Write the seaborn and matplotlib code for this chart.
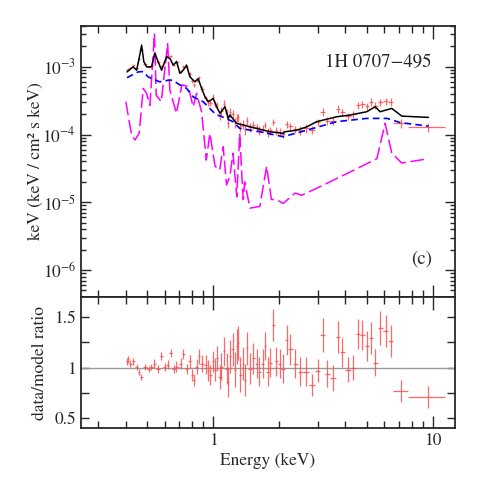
import numpy as np
import pandas as pd
import seaborn as sns
import matplotlib
matplotlib.use("Agg")
import matplotlib.pyplot as plt
from matplotlib.ticker import LogLocator, FixedLocator, NullFormatter, FuncFormatter

# ---------------- data ----------------
# total model (black)
model_E = [0.405, 0.432, 0.448, 0.465, 0.472, 0.483, 0.497, 0.524, 0.542, 0.561, 0.582,
           0.613, 0.635, 0.657, 0.681, 0.705, 0.730, 0.756, 0.783, 0.825, 0.854, 0.885,
           0.917, 0.949, 1.0, 1.036, 1.073, 1.131, 1.17, 1.191, 1.278, 1.37, 1.577,
           1.813, 2.085, 2.12, 2.40, 2.67, 2.96, 3.65, 4.2, 5.0, 5.46, 5.75, 6.5, 7.22, 9.55]
model_F = [8.4e-4, 1.0e-3, 8.9e-4, 1.6e-3, 2.09e-3, 1.19e-3, 1.0e-3, 1.0e-3, 1.58e-3, 1.19e-3, 8.9e-4,
           1.40e-3, 1.33e-3, 1.06e-3, 1.19e-3, 8.0e-4, 8.9e-4, 1.06e-3, 7.1e-4, 6.0e-4, 6.7e-4, 4.8e-4,
           3.6e-4, 3.05e-4, 3.4e-4, 2.57e-4, 2.06e-4, 2.57e-4, 1.73e-4, 1.94e-4, 1.46e-4, 1.38e-4, 1.23e-4,
           1.10e-4, 1.04e-4, 1.10e-4, 1.16e-4, 1.30e-4, 1.55e-4, 1.83e-4, 1.94e-4, 2.17e-4, 2.57e-4, 2.17e-4,
           2.43e-4, 1.87e-4, 1.79e-4]

# continuum component (blue dashed)
cont_E = [0.405, 0.455, 0.48, 0.505, 0.57, 0.635, 0.66, 0.705, 0.756, 0.81, 0.90, 0.98,
          1.036, 1.07, 1.23, 1.32, 1.63, 2.08, 2.67, 3.65, 5.0, 6.2, 7.1, 9.55]
cont_F = [6.9e-4, 8.4e-4, 8.5e-4, 7.1e-4, 6.0e-4, 6.4e-4, 6.2e-4, 5.4e-4, 4.8e-4, 3.6e-4, 3.05e-4, 2.3e-4,
          1.94e-4, 1.9e-4, 1.55e-4, 1.23e-4, 1.10e-4, 9.3e-5, 1.16e-4, 1.55e-4, 1.73e-4, 1.73e-4, 1.5e-4, 1.33e-4]

# line/reflection component (magenta long dashed)
refl_E = [0.40, 0.425, 0.44, 0.46, 0.48, 0.497, 0.515, 0.54, 0.55, 0.58, 0.62, 0.635, 0.68,
          0.72, 0.77, 0.81, 0.84, 0.885, 0.93, 0.965, 1.02, 1.07, 1.11, 1.15, 1.19, 1.23,
          1.28, 1.32, 1.35, 1.37, 1.39, 1.47, 1.63, 1.75, 1.84, 1.94, 2.08, 2.36, 2.53,
          3.29, 4.2, 5.56, 6.06, 6.5, 7.22, 9.55]
refl_F = [3.05e-4, 9.8e-5, 8.3e-5, 1.04e-4, 4.8e-4, 4.05e-4, 2.7e-4, 3.1e-3, 3.8e-4, 3.05e-4, 2.2e-3, 4.5e-4, 2.06e-4,
          5.4e-4, 5.1e-4, 2.57e-4, 4.05e-4, 2.17e-4, 4.2e-5, 1.04e-4, 3.4e-5, 3.0e-5, 6.6e-5, 1.8e-5, 2.4e-5, 5.3e-5,
          1.2e-5, 1.04e-4, 2.4e-5, 1.1e-5, 2.0e-5, 8.2e-6, 8.7e-6, 3.4e-5, 1.1e-5, 1.1e-5, 9.6e-6, 1.37e-5, 1.27e-5,
          1.9e-5, 2.8e-5, 4.4e-5, 1.46e-4, 5.3e-5, 3.8e-5, 4.4e-5]

# data / model ratio
data_E = [0.405, 0.41, 0.42, 0.43, 0.45, 0.46, 0.47, 0.49, 0.51, 0.52, 0.54, 0.56, 0.58, 0.60,
          0.62, 0.64, 0.66, 0.68, 0.71, 0.73, 0.76, 0.78, 0.80, 0.82, 0.84, 0.86, 0.89, 0.93,
          0.95, 0.97, 1.0, 1.02, 1.04, 1.07, 1.09, 1.12, 1.15, 1.17, 1.19, 1.23, 1.26, 1.28,
          1.30, 1.33, 1.36, 1.39, 1.42, 1.47, 1.52, 1.58, 1.62, 1.68, 1.72, 1.77, 1.82, 1.88,
          1.94, 2.01, 2.08, 2.16, 2.24, 2.36, 2.48, 2.65, 2.81, 3.0, 3.15, 3.31, 3.52, 3.69,
          3.87, 4.09, 4.35, 4.55, 4.77, 5.0, 5.22, 5.47, 5.77, 6.11, 6.43, 7.14, 9.55]
ratio = [1.06, 1.08, 1.04, 1.06, 1.01, 0.96, 0.91, 1.01, 0.99, 1.01, 1.04, 0.99, 1.11, 1.01,
         1.03, 1.14, 0.99, 1.01, 1.04, 1.13, 0.99, 1.06, 0.93, 0.88, 1.01, 1.11, 1.04, 1.03,
         0.97, 0.93, 1.06, 0.98, 1.09, 0.91, 1.01, 1.16, 0.99, 0.86, 1.11, 1.18, 0.98, 1.21,
         1.24, 0.93, 1.04, 0.88, 1.19, 0.99, 1.09, 1.04, 0.96, 1.04, 1.21, 0.96, 1.05, 1.42,
         1.06, 1.04, 0.99, 1.27, 1.18, 1.04, 0.96, 0.96, 0.83, 0.97, 1.32, 0.94, 0.90, 1.30,
         1.15, 0.98, 1.00, 1.33, 1.32, 1.21, 1.29, 1.05, 1.39, 1.36, 1.26, 0.77, 0.71]
ratio_err = [0.03, 0.03, 0.03, 0.03, 0.03, 0.03, 0.03, 0.03, 0.03, 0.03, 0.04, 0.04, 0.04, 0.04,
             0.04, 0.04, 0.04, 0.05, 0.05, 0.05, 0.05, 0.06, 0.06, 0.06, 0.07, 0.07, 0.08, 0.09,
             0.10, 0.10, 0.10, 0.11, 0.12, 0.12, 0.13, 0.14, 0.15, 0.15, 0.16, 0.16, 0.17, 0.17,
             0.17, 0.17, 0.16, 0.16, 0.16, 0.15, 0.15, 0.14, 0.14, 0.14, 0.14, 0.14, 0.14, 0.16,
             0.14, 0.14, 0.14, 0.15, 0.15, 0.14, 0.14, 0.14, 0.11, 0.11, 0.17, 0.13, 0.13, 0.16,
             0.14, 0.12, 0.12, 0.15, 0.15, 0.15, 0.16, 0.13, 0.17, 0.16, 0.16, 0.11, 0.11]
last_bins_lo = [6.58, 7.67]   # channel edges of the two widest bins
last_bins_hi = [7.70, 11.4]

tick_labels_x = {1: "1", 10: "10"}
source_name = "1H 0707\u2212495"
panel_tag = "(c)"

# ---------------- style ----------------
sns.set_style("ticks")
plt.rcParams['font.family'] = ['STIXGeneral', 'DejaVu Serif']
plt.rcParams['mathtext.fontset'] = 'stix'

fig = plt.figure(figsize=(4.8, 4.8), dpi=100)
ax1 = fig.add_axes([0.16875, 0.38125, 0.779, 0.5646])
ax2 = fig.add_axes([0.16875, 0.10833, 0.779, 0.2729], sharex=ax1)

for ax in (ax1, ax2):
    ax.set_xscale('log')
ax1.set_yscale('log')

# derived bin widths
E = np.array(data_E)
edges = np.sqrt(E[:-1] * E[1:])
lo_edge = np.concatenate([[E[0] - (edges[0] - E[0])], edges])
hi_edge = np.concatenate([edges, [E[-1] + 1.0]])
lo_edge[-2:] = last_bins_lo
hi_edge[-2:] = last_bins_hi
hi_edge[-3] = min(hi_edge[-3], 6.58)
xerr = np.vstack([E - lo_edge, hi_edge - E])

r = np.array(ratio)
rerr = np.array(ratio_err)
mod_at_data = 10 ** np.interp(np.log10(E), np.log10(model_E), np.log10(model_F))
flux = r * mod_at_data
ferr = rerr * mod_at_data

red = '#ff4d4d'
ax1.errorbar(E, flux, xerr=xerr, yerr=ferr, fmt='none', ecolor=red, elinewidth=0.9, alpha=0.85, zorder=2)

df_m = pd.DataFrame({'E': model_E, 'F': model_F})
df_c = pd.DataFrame({'E': cont_E, 'F': cont_F})
df_r = pd.DataFrame({'E': refl_E, 'F': refl_F})
sns.lineplot(data=df_r, x='E', y='F', ax=ax1, color='#ff00ff', lw=1.1, estimator=None, sort=False,
             linestyle=(0, (9, 3)), zorder=3)
sns.lineplot(data=df_c, x='E', y='F', ax=ax1, color='#0000ff', lw=1.2, estimator=None, sort=False,
             linestyle=(0, (4, 2.5)), zorder=4)
sns.lineplot(data=df_m, x='E', y='F', ax=ax1, color='black', lw=1.1, estimator=None, sort=False, zorder=5)

ax2.axhline(1.0, color='#9a9a9a', lw=1.0, zorder=1)
ax2.errorbar(E, r, xerr=xerr, yerr=rerr, fmt='none', ecolor=red, elinewidth=0.9, alpha=0.85, zorder=2)

# limits
ax1.set_xlim(0.25, 12.6)
ax1.set_ylim(4e-7, 4e-3)
ax2.set_ylim(0.4, 1.7)

# ticks
for ax in (ax1, ax2):
    ax.xaxis.set_major_locator(FixedLocator([1, 10]))
    ax.xaxis.set_minor_locator(LogLocator(base=10, subs=np.arange(2, 10)))
    ax.xaxis.set_minor_formatter(NullFormatter())
    ax.tick_params(which='both', direction='in', top=True, right=True, width=1.0, labelsize=12.5)
    ax.tick_params(axis='x', which='major', length=9)
    ax.tick_params(axis='x', which='minor', length=5)
    for s in ax.spines.values():
        s.set_linewidth(1.3)
ax1.yaxis.set_major_locator(LogLocator(base=10, numticks=10))
ax1.yaxis.set_minor_locator(LogLocator(base=10, subs=np.arange(2, 10), numticks=20))
ax1.yaxis.set_minor_formatter(NullFormatter())
ax1.tick_params(axis='y', which='major', length=7)
ax1.tick_params(axis='y', which='minor', length=3.5)
ax1.tick_params(labelbottom=False)

ax2.yaxis.set_major_locator(FixedLocator([0.5, 1.0, 1.5]))
ax2.yaxis.set_minor_locator(FixedLocator([0.75, 1.25]))
ax2.yaxis.set_major_formatter(FuncFormatter(lambda v, p: f"{v:g}"))
ax2.tick_params(axis='y', which='both', length=6)
ax2.xaxis.set_major_formatter(FuncFormatter(lambda v, p: tick_labels_x.get(int(round(v)), "")))

ax1.set_xlabel("")
ax1.set_ylabel("keV (keV / cm\u00b2 s keV)", fontsize=12.5)
ax1.yaxis.set_label_coords(-0.10, 0.5)
ax2.set_ylabel("data/model ratio", fontsize=12.5)
ax2.yaxis.set_label_coords(-0.088, 0.5)
ax2.set_xlabel("Energy (keV)", fontsize=12.5)
ax2.xaxis.set_label_coords(0.5, -0.19)

ax1.text(0.9385, 0.867, source_name, transform=ax1.transAxes, ha='right', va='center', fontsize=13.5)
ax1.text(0.9385, 0.14, panel_tag, transform=ax1.transAxes, ha='right', va='center', fontsize=13.5)

fig.savefig("out.png", dpi=100)
